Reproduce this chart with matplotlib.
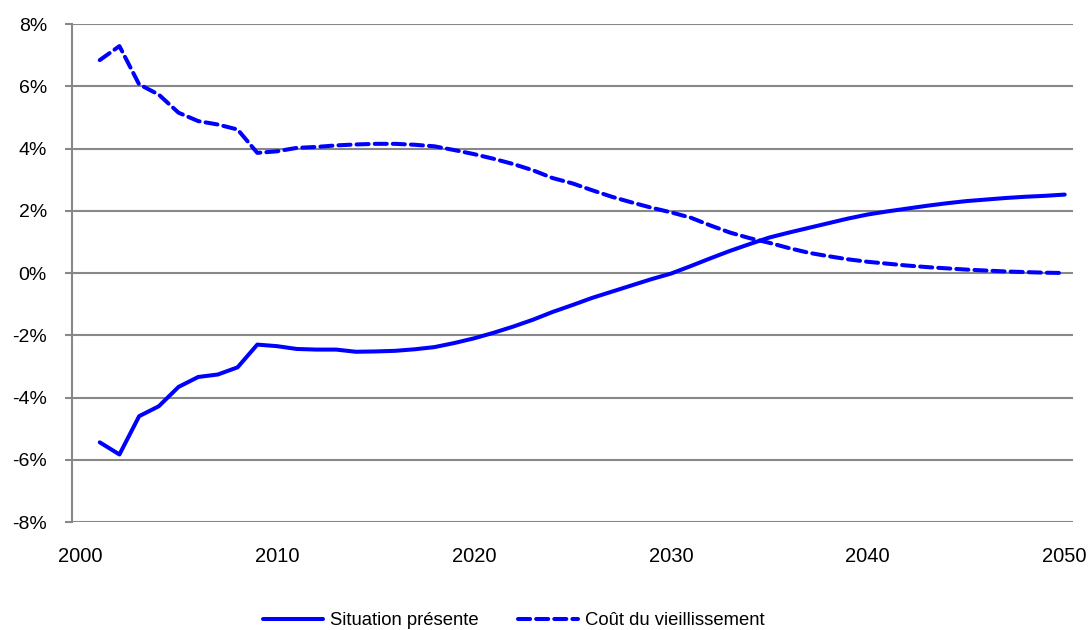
import numpy as np
import matplotlib.pyplot as plt
from matplotlib.ticker import FuncFormatter

plt.rcParams['font.family'] = ['Liberation Sans', 'DejaVu Sans']

years = list(range(2001, 2051))

# Situation présente (%)
situation = [-5.44, -5.83, -4.60, -4.28, -3.66, -3.34, -3.26, -3.03, -2.30, -2.35,
             -2.44, -2.46, -2.46, -2.53, -2.52, -2.50, -2.45, -2.38, -2.25, -2.10,
             -1.92, -1.72, -1.50, -1.25, -1.03, -0.80, -0.60, -0.40, -0.20, -0.02,
             0.22, 0.47, 0.71, 0.93, 1.14, 1.30, 1.45, 1.60, 1.75, 1.88,
             1.98, 2.07, 2.16, 2.24, 2.31, 2.36, 2.41, 2.45, 2.48, 2.52]

# Coût du vieillissement (%)
vieillissement = [6.84, 7.29, 6.06, 5.73, 5.15, 4.88, 4.77, 4.61, 3.86, 3.91,
                  4.02, 4.05, 4.10, 4.13, 4.15, 4.15, 4.12, 4.07, 3.95, 3.82,
                  3.67, 3.50, 3.30, 3.05, 2.88, 2.66, 2.45, 2.27, 2.10, 1.95,
                  1.78, 1.53, 1.30, 1.12, 0.97, 0.80, 0.65, 0.54, 0.44, 0.36,
                  0.30, 0.24, 0.19, 0.15, 0.11, 0.08, 0.05, 0.03, 0.01, 0.00]

y_ticks = list(range(-8, 9, 2))
x_ticks = [2000, 2010, 2020, 2030, 2040, 2050]

fig = plt.figure(figsize=(10.89, 6.3), dpi=100)
ax = fig.add_axes([0.0661, 0.1714, 0.9192, 0.7905])

blue = '#0000ff'
grid_c = '#888888'

l1, = ax.plot(years, situation, color=blue, lw=2.9, label='Situation présente',
              solid_capstyle='round')
l2, = ax.plot(years, vieillissement, color=blue, lw=2.9, linestyle=(0, (3, 1.5)),
              label='Coût du vieillissement', dash_capstyle='round')

ax.set_xlim(1999.59, 2050.42)
ax.set_ylim(-8, 8)
ax.set_yticks(y_ticks)
ax.set_xticks(x_ticks)
ax.yaxis.set_major_formatter(FuncFormatter(lambda v, p: '%d%%' % v))

for y in y_ticks:
    ax.axhline(y, color=grid_c, lw=1.5, zorder=0)

for s in ['top', 'right', 'bottom']:
    ax.spines[s].set_visible(False)
ax.spines['left'].set_color(grid_c)
ax.spines['left'].set_linewidth(1.5)

ax.tick_params(axis='y', length=5, width=1.5, color=grid_c, labelsize=14, pad=13)
ax.tick_params(axis='x', length=0, labelsize=14.5, pad=18)

fig.legend(handles=[l1, l2], loc='center', bbox_to_anchor=(0.472, 0.0143), ncol=2,
           frameon=False, fontsize=13.3, handlelength=3.25, columnspacing=2.15,
           handletextpad=0.38, borderpad=0, borderaxespad=0)

plt.savefig('out.png', dpi=100)
